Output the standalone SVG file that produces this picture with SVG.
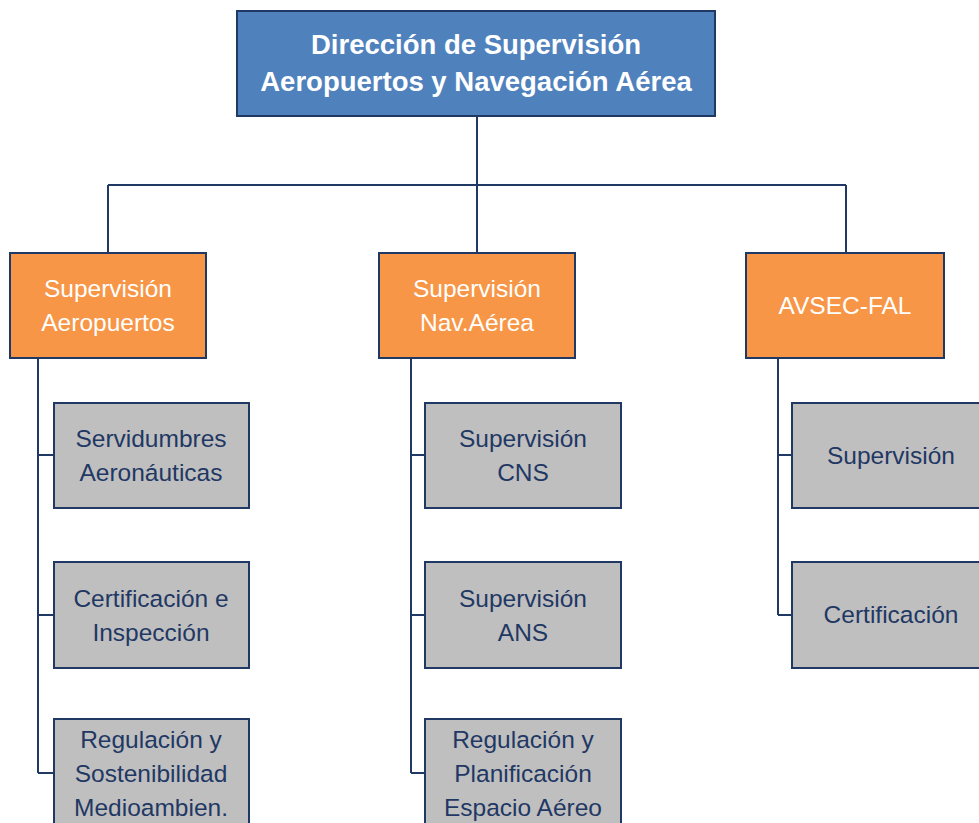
<svg xmlns="http://www.w3.org/2000/svg" width="979" height="823" viewBox="0 0 979 823">
<style>
.top{fill:#4f81bd;stroke:#1f3864;stroke-width:2}
.org{fill:#f79646;stroke:#1f3864;stroke-width:2}
.gry{fill:#bfbfbf;stroke:#1f3864;stroke-width:2}
.ln{fill:none;stroke:#1f3864;stroke-width:2}
text{font-family:"Liberation Sans",Arial,sans-serif;text-anchor:middle}
.tt{fill:#ffffff;font-size:27.5px;font-weight:bold}
.ot{fill:#ffffff;font-size:24.5px}
.gt{fill:#1f3864;font-size:24.5px}
</style>
<rect width="979" height="823" fill="#ffffff"/>
<g id="connectors">
<path class="ln" d="M477 116V185M108 185H846M108 185V253M477 185V253M846 185V253"/>
<path class="ln" d="M38 358V773M38 455H54M38 615H54M38 773H54"/>
<path class="ln" d="M411 358V773M411 455H425M411 615H425M411 773H425"/>
<path class="ln" d="M778 358V615M778 455H792M778 615H792"/>
</g>
<g id="direccion">
<rect class="top" x="237" y="11" width="478" height="105"/>
<text class="tt" x="476" y="54">Dirección de Supervisión</text>
<text class="tt" x="476" y="91">Aeropuertos y Navegación Aérea</text>
</g>
<g id="sup-aeropuertos">
<rect class="org" x="10" y="253" width="196" height="105"/>
<text class="ot" x="108" y="297">Supervisión</text>
<text class="ot" x="108" y="331">Aeropuertos</text>
</g>
<g id="sup-navaerea">
<rect class="org" x="379" y="253" width="196" height="105"/>
<text class="ot" x="477" y="297">Supervisión</text>
<text class="ot" x="477" y="331">Nav.Aérea</text>
</g>
<g id="avsec-fal">
<rect class="org" x="746" y="253" width="198" height="105"/>
<text class="ot" x="845" y="314">AVSEC-FAL</text>
</g>
<g id="servidumbres">
<rect class="gry" x="54" y="403" width="195" height="105"/>
<text class="gt" x="151" y="447">Servidumbres</text>
<text class="gt" x="151" y="481">Aeronáuticas</text>
</g>
<g id="certificacion-inspeccion">
<rect class="gry" x="54" y="562" width="195" height="106"/>
<text class="gt" x="151" y="607">Certificación e</text>
<text class="gt" x="151" y="641">Inspección</text>
</g>
<g id="regulacion-sostenibilidad">
<rect class="gry" x="54" y="719" width="195" height="110"/>
<text class="gt" x="151" y="748">Regulación y</text>
<text class="gt" x="151" y="782">Sostenibilidad</text>
<text class="gt" x="151" y="816">Medioambien.</text>
</g>
<g id="sup-cns">
<rect class="gry" x="425" y="403" width="196" height="105"/>
<text class="gt" x="523" y="447">Supervisión</text>
<text class="gt" x="523" y="481">CNS</text>
</g>
<g id="sup-ans">
<rect class="gry" x="425" y="562" width="196" height="106"/>
<text class="gt" x="523" y="607">Supervisión</text>
<text class="gt" x="523" y="641">ANS</text>
</g>
<g id="regulacion-planificacion">
<rect class="gry" x="425" y="719" width="196" height="110"/>
<text class="gt" x="523" y="748">Regulación y</text>
<text class="gt" x="523" y="782">Planificación</text>
<text class="gt" x="523" y="816">Espacio Aéreo</text>
</g>
<g id="avsec-supervision">
<rect class="gry" x="792" y="403" width="195" height="105"/>
<text class="gt" x="891" y="464">Supervisión</text>
</g>
<g id="avsec-certificacion">
<rect class="gry" x="792" y="562" width="195" height="106"/>
<text class="gt" x="891" y="623">Certificación</text>
</g>
</svg>
